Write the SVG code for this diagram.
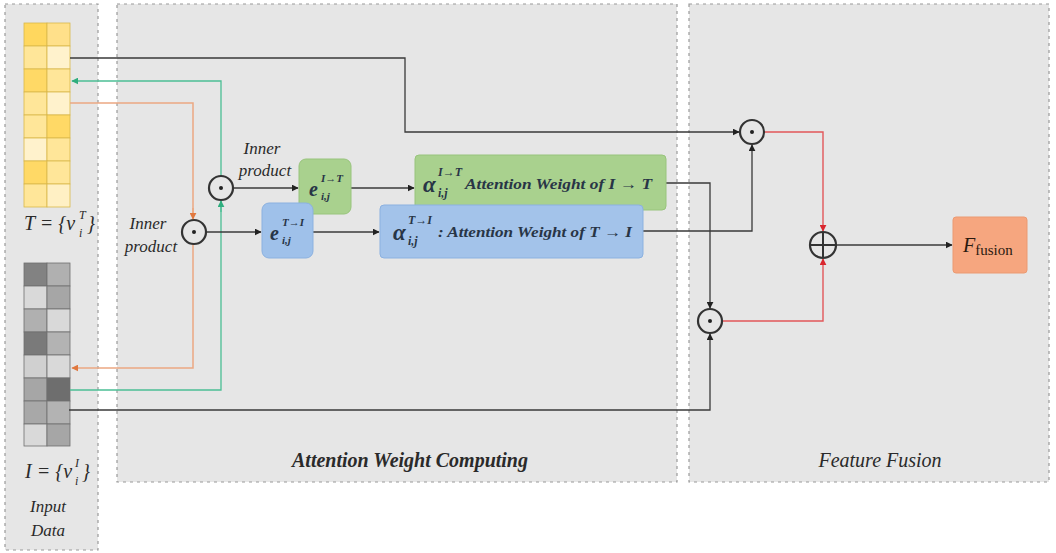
<svg xmlns="http://www.w3.org/2000/svg" width="1056" height="553" viewBox="0 0 1056 553">
<style>
.panel{fill:#e6e6e6;stroke:#9a9a9a;stroke-width:1.2;stroke-dasharray:3 4}
.cell{stroke:#d9b84a;stroke-width:0.8}
.gcell{stroke:#6f6f6f;stroke-width:0.8}
.blk{fill:none;stroke:#3a3a3a;stroke-width:1.3}
.grn{fill:none;stroke:#4cbf95;stroke-width:1.3}
.org{fill:none;stroke:#eba882;stroke-width:1.5}
.red{fill:none;stroke:#e2575a;stroke-width:1.4}
.op{fill:#e6e6e6;stroke:#333;stroke-width:2.2}
.lbl{font-family:"Liberation Serif",serif;font-style:italic;fill:#2a2a2a}
.aw{font-family:"Liberation Serif",serif;font-style:italic;font-weight:bold;fill:#283546}
</style>
<defs>
<marker id="ab" viewBox="0 0 10 10" refX="9" refY="5" markerWidth="7" markerHeight="7" markerUnits="userSpaceOnUse" orient="auto"><path d="M0,0L10,5L0,10z" fill="#222"/></marker>
<marker id="ag" viewBox="0 0 10 10" refX="9" refY="5" markerWidth="7" markerHeight="7" markerUnits="userSpaceOnUse" orient="auto"><path d="M0,0L10,5L0,10z" fill="#2fae7e"/></marker>
<marker id="ao" viewBox="0 0 10 10" refX="9" refY="5" markerWidth="7" markerHeight="7" markerUnits="userSpaceOnUse" orient="auto"><path d="M0,0L10,5L0,10z" fill="#e0783f"/></marker>
<marker id="ar" viewBox="0 0 10 10" refX="9" refY="5" markerWidth="7" markerHeight="7" markerUnits="userSpaceOnUse" orient="auto"><path d="M0,0L10,5L0,10z" fill="#d9262e"/></marker>
</defs>
<rect width="1056" height="553" fill="#ffffff"/>
<g id="panels">
<rect class="panel" x="5" y="4" width="93" height="546"/>
<rect class="panel" x="117" y="4" width="560" height="478"/>
<rect class="panel" x="689" y="4" width="360" height="478"/>
</g>
<g id="input-T">
<rect class="cell" x="24" y="23" width="23" height="23" fill="#ffd75e"/><rect class="cell" x="47" y="23" width="23" height="23" fill="#ffe08a"/>
<rect class="cell" x="24" y="46" width="23" height="23" fill="#ffe699"/><rect class="cell" x="47" y="46" width="23" height="23" fill="#fff2cc"/>
<rect class="cell" x="24" y="69" width="23" height="23" fill="#ffd966"/><rect class="cell" x="47" y="69" width="23" height="23" fill="#ffe699"/>
<rect class="cell" x="24" y="92" width="23" height="23" fill="#ffe699"/><rect class="cell" x="47" y="92" width="23" height="23" fill="#fff2cc"/>
<rect class="cell" x="24" y="115" width="23" height="23" fill="#ffe699"/><rect class="cell" x="47" y="115" width="23" height="23" fill="#ffd966"/>
<rect class="cell" x="24" y="138" width="23" height="23" fill="#fff2cc"/><rect class="cell" x="47" y="138" width="23" height="23" fill="#ffe699"/>
<rect class="cell" x="24" y="161" width="23" height="23" fill="#ffd966"/><rect class="cell" x="47" y="161" width="23" height="23" fill="#ffe699"/>
<rect class="cell" x="24" y="184" width="23" height="23" fill="#ffe699"/><rect class="cell" x="47" y="184" width="23" height="23" fill="#fff0c4"/>
<text class="lbl" x="24" y="230" font-size="20">T = {v</text>
<text class="lbl" x="79" y="219" font-size="12">T</text>
<text class="lbl" x="79" y="237" font-size="12">i</text>
<text class="lbl" x="87" y="230" font-size="20">}</text>
</g>
<g id="input-I">
<rect class="gcell" x="24" y="263" width="23" height="23" fill="#828282"/><rect class="gcell" x="47" y="263" width="23" height="23" fill="#b0b0b0"/>
<rect class="gcell" x="24" y="286" width="23" height="23" fill="#d9d9d9"/><rect class="gcell" x="47" y="286" width="23" height="23" fill="#a6a6a6"/>
<rect class="gcell" x="24" y="309" width="23" height="23" fill="#b0b0b0"/><rect class="gcell" x="47" y="309" width="23" height="23" fill="#d9d9d9"/>
<rect class="gcell" x="24" y="332" width="23" height="23" fill="#7a7a7a"/><rect class="gcell" x="47" y="332" width="23" height="23" fill="#b3b3b3"/>
<rect class="gcell" x="24" y="355" width="23" height="23" fill="#d0d0d0"/><rect class="gcell" x="47" y="355" width="23" height="23" fill="#d9d9d9"/>
<rect class="gcell" x="24" y="378" width="23" height="23" fill="#a6a6a6"/><rect class="gcell" x="47" y="378" width="23" height="23" fill="#6e6e6e"/>
<rect class="gcell" x="24" y="401" width="23" height="23" fill="#a8a8a8"/><rect class="gcell" x="47" y="401" width="23" height="23" fill="#b3b3b3"/>
<rect class="gcell" x="24" y="424" width="23" height="22" fill="#d9d9d9"/><rect class="gcell" x="47" y="424" width="23" height="22" fill="#a6a6a6"/>
<text class="lbl" x="25" y="478" font-size="20">I = {v</text>
<text class="lbl" x="75" y="467" font-size="12">I</text>
<text class="lbl" x="75" y="485" font-size="12">i</text>
<text class="lbl" x="82" y="478" font-size="20">}</text>
<text class="lbl" x="48" y="512" font-size="17" text-anchor="middle">Input</text>
<text class="lbl" x="48" y="536" font-size="17" text-anchor="middle">Data</text>
</g>
<g id="connectors">
<path class="blk" d="M70,58 H405 V132 H739" marker-end="url(#ab)"/>
<path class="grn" d="M70,390 H221 V81 H72" marker-end="url(#ag)"/>
<path class="org" d="M70,103 H193 V368 H72" marker-end="url(#ao)"/>
<path class="blk" d="M233,188 H298" marker-end="url(#ab)"/>
<path class="blk" d="M206,232 H261" marker-end="url(#ab)"/>
<path class="blk" d="M351,188 H414" marker-end="url(#ab)"/>
<path class="blk" d="M313,232 H379" marker-end="url(#ab)"/>
<path class="blk" d="M666,183 H710 V308" marker-end="url(#ab)"/>
<path class="blk" d="M643,231 H752 V145" marker-end="url(#ab)"/>
<path class="blk" d="M69,410 H710 V334" marker-end="url(#ab)"/>
<path class="red" d="M764,132 H823 V231" marker-end="url(#ar)"/>
<path class="red" d="M722,321 H823 V259" marker-end="url(#ar)"/>
<path class="blk" d="M836,245 H952" marker-end="url(#ab)"/>
</g>
<g id="op-inner-top">
<circle class="op" cx="221" cy="188" r="12"/><circle cx="221" cy="188" r="2" fill="#222"/>
<path class="grn" d="M221,212 V201" marker-end="url(#ag)"/>
<text class="lbl" x="262" y="154" font-size="17" text-anchor="middle">Inner</text>
<text class="lbl" x="265" y="176" font-size="17" text-anchor="middle">product</text>
</g>
<g id="op-inner-bottom">
<circle class="op" cx="194" cy="232" r="12"/><circle cx="194" cy="232" r="2" fill="#222"/>
<path class="org" d="M193,208 V219" marker-end="url(#ao)"/>
<text class="lbl" x="148" y="229" font-size="17" text-anchor="middle">Inner</text>
<text class="lbl" x="151" y="252" font-size="17" text-anchor="middle">product</text>
</g>
<g id="e-IT">
<rect x="299" y="159" width="52" height="55" rx="7" fill="#a9d18e" stroke="#98c47c"/>
<text class="aw" x="309" y="196" font-size="20">e</text>
<text class="aw" x="321" y="182" font-size="11">I→T</text>
<text class="aw" x="321" y="200" font-size="11">i,j</text>
</g>
<g id="e-TI">
<rect x="262" y="203" width="51" height="55" rx="7" fill="#9fc1ea" stroke="#8bb1e0"/>
<text class="aw" x="270" y="240" font-size="20">e</text>
<text class="aw" x="282" y="226" font-size="11">T→I</text>
<text class="aw" x="282" y="244" font-size="11">i,j</text>
</g>
<g id="alpha-IT">
<rect x="415" y="155" width="251" height="55" rx="4" fill="#a9d18e" stroke="#98c47c"/>
<text class="aw" x="423" y="192" font-size="23">α</text>
<text class="aw" x="438" y="176" font-size="12">I→T</text>
<text class="aw" x="438" y="197" font-size="12">i,j</text>
<text class="aw" x="465" y="189" font-size="15" textLength="187" lengthAdjust="spacingAndGlyphs">Attention Weight of I → T</text>
</g>
<g id="alpha-TI">
<rect x="380" y="205" width="263" height="53" rx="4" fill="#a3c3ea" stroke="#8bb1e0"/>
<text class="aw" x="393" y="240" font-size="23">α</text>
<text class="aw" x="408" y="224" font-size="12">T→I</text>
<text class="aw" x="408" y="245" font-size="12">i,j</text>
<text class="aw" x="438" y="237" font-size="15" textLength="194" lengthAdjust="spacingAndGlyphs">: Attention Weight of T → I</text>
</g>
<g id="op-fuse-top">
<circle class="op" cx="752" cy="132" r="12"/><circle cx="752" cy="132" r="2" fill="#222"/>
</g>
<g id="op-fuse-bottom">
<circle class="op" cx="710" cy="321" r="12"/><circle cx="710" cy="321" r="2" fill="#222"/>
</g>
<g id="op-plus">
<circle class="op" cx="823" cy="245" r="13"/>
<path d="M810,245 H836 M823,232 V258" stroke="#333" stroke-width="2"/>
</g>
<g id="F-fusion">
<rect x="953" y="217" width="74" height="56" rx="3" fill="#f6a67f" stroke="#eb9a72"/>
<text x="963" y="252" font-family="Liberation Serif,serif" font-size="20" fill="#2a1a10"><tspan font-style="italic">F</tspan><tspan font-size="15" dy="3">fusion</tspan></text>
</g>
<g id="panel-labels">
<text class="lbl" x="410" y="467" font-size="20" text-anchor="middle" font-weight="bold" fill="#3a3a3a">Attention Weight Computing</text>
<text class="lbl" x="880" y="467" font-size="20" text-anchor="middle">Feature Fusion</text>
</g>
</svg>
